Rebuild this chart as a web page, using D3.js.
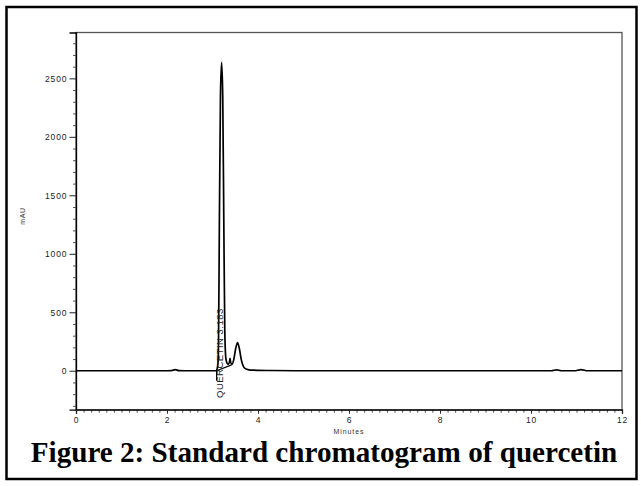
<!DOCTYPE html>
<html>
<head>
<meta charset="utf-8">
<script src="https://cdn.jsdelivr.net/npm/d3@7"></script>
<style>
  body { margin: 0; background: #fff; }
  svg { display: block; }
</style>
</head>
<body>
<svg id="chart" width="641" height="486"></svg>
<script>
// chromatogram trace (minutes, mAU)
var times = [0, 1.0, 2.0, 2.1, 2.18, 2.26, 2.4, 3.0, 3.08, 3.11, 3.13, 3.15, 3.175, 3.2,
  3.225, 3.25, 3.27, 3.29, 3.31, 3.34, 3.37, 3.385, 3.4, 3.43, 3.47, 3.51, 3.55, 3.59,
  3.63, 3.67, 3.72, 3.8, 3.9, 4.0, 4.3, 5.0, 7.0, 9.0, 10.45, 10.56, 10.67, 10.95, 11.1,
  11.25, 11.5, 12.0];
var mAU = [0, 0, 0, 1, 9, 1, 0, 0, 0, 30, 150, 1200, 2350, 2637,
  2350, 1200, 350, 120, 75, 55, 70, 105, 70, 55, 100, 190, 240, 190,
  100, 45, 18, 8, 5, 3, 2, 0, 0, 0, 0, 8, 0, 0, 9,
  0, 0, 0];

// integration baseline drawn under the peak
var baseTimes = [3.09, 3.42];
var baseValues = [0, 50];

var peakLabel = "QUERCETIN 3.183";
var peakLabelTime = 3.09;

var xTicks = [0, 2, 4, 6, 8, 10, 12];
var yTicks = [0, 500, 1000, 1500, 2000, 2500];

var caption = "Figure 2: Standard chromatogram of quercetin";

var svg = d3.select("#chart");

// outer frame
svg.append("rect")
    .attr("x", 6.5)
    .attr("y", 7)
    .attr("width", 630)
    .attr("height", 472)
    .attr("fill", "none")
    .attr("stroke", "#000")
    .attr("stroke-width", 2.5);

var pLeft = 76, pRight = 622, pTop = 32.5, pBottom = 409.7;

var x = d3.scaleLinear().domain([0, 12]).range([pLeft, pRight]);
var y = d3.scaleLinear().domain([-333, 2892]).range([pBottom, pTop]);

// plot box
svg.append("rect")
    .attr("x", pLeft)
    .attr("y", pTop)
    .attr("width", pRight - pLeft)
    .attr("height", pBottom - pTop)
    .attr("fill", "none")
    .attr("stroke", "#555")
    .attr("stroke-width", 1.3);

// Y AXIS //
var yMinor = d3.range(-300, 2801, 100).filter(function(v) { return v % 500 != 0; });
svg.append("g")
    .attr("transform", "translate(" + pLeft + ",0)")
    .call(d3.axisLeft(y).tickValues(yMinor).tickSize(3).tickFormat(""))
    .call(function(g) { g.select(".domain").remove(); })
    .selectAll("line").attr("stroke", "#555");

var yAxis = svg.append("g")
    .attr("transform", "translate(" + pLeft + ",0)")
    .call(d3.axisLeft(y).tickValues(yTicks).tickSize(6.5).tickPadding(2).tickFormat(d3.format("d")));
yAxis.select(".domain").attr("stroke", "#000").attr("stroke-width", 1.3);
yAxis.selectAll("line").attr("stroke", "#222");
yAxis.selectAll("text")
    .attr("font-family", "Liberation Sans, Arial, sans-serif")
    .attr("font-size", "8.5px")
    .attr("letter-spacing", "0.9px")
    .attr("fill", "#222");

svg.append("text")
    .attr("transform", "translate(25,216) rotate(-90)")
    .attr("font-family", "Liberation Sans, Arial, sans-serif")
    .attr("font-size", "7px")
    .attr("letter-spacing", "0.6px")
    .attr("fill", "#333")
    .style("text-anchor", "middle")
    .text("mAU");

// X AXIS //
var xMinor = d3.range(0, 73).map(function(i) { return i / 6; }).filter(function(v, i) { return i % 12 != 0; });
svg.append("g")
    .attr("transform", "translate(0," + pBottom + ")")
    .call(d3.axisBottom(x).tickValues(xMinor).tickSize(3).tickFormat(""))
    .call(function(g) { g.select(".domain").remove(); })
    .selectAll("line").attr("stroke", "#555");

var xAxis = svg.append("g")
    .attr("transform", "translate(0," + pBottom + ")")
    .call(d3.axisBottom(x).tickValues(xTicks).tickSize(4).tickPadding(3).tickFormat(d3.format("d")));
xAxis.select(".domain").attr("stroke", "#000").attr("stroke-width", 1.3);
xAxis.selectAll("line").attr("stroke", "#222");
xAxis.selectAll("text")
    .attr("font-family", "Liberation Sans, Arial, sans-serif")
    .attr("font-size", "8.5px")
    .attr("letter-spacing", "0.9px")
    .attr("fill", "#222");

svg.append("text")
    .attr("x", (pLeft + pRight) / 2)
    .attr("y", 434)
    .attr("font-family", "Liberation Sans, Arial, sans-serif")
    .attr("font-size", "7px")
    .attr("letter-spacing", "0.9px")
    .attr("fill", "#333")
    .style("text-anchor", "middle")
    .text("Minutes");

// TRACE //
var trace = times.map(function(t, i) { return [t, mAU[i]]; });
var line = d3.line()
    .x(function(d) { return x(d[0]); })
    .y(function(d) { return y(d[1]); })
    .curve(d3.curveMonotoneX);

svg.append("path")
    .datum(trace)
    .attr("d", line)
    .attr("fill", "none")
    .attr("stroke", "#000")
    .attr("stroke-width", 1.7);

var baseSeg = baseTimes.map(function(t, i) { return [t, baseValues[i]]; });
svg.append("path")
    .datum(baseSeg)
    .attr("d", d3.line().x(function(d) { return x(d[0]); }).y(function(d) { return y(d[1]); }))
    .attr("fill", "none")
    .attr("stroke", "#000")
    .attr("stroke-width", 1.2);

// peak marker + label
svg.append("line")
    .attr("x1", x(peakLabelTime))
    .attr("x2", x(peakLabelTime))
    .attr("y1", y(0))
    .attr("y2", y(-85))
    .attr("stroke", "#000")
    .attr("stroke-width", 1.2);

svg.append("text")
    .attr("transform", "translate(" + (x(peakLabelTime) + 6.5) + ",398) rotate(-90)")
    .attr("font-family", "Liberation Sans, Arial, sans-serif")
    .attr("font-size", "9.5px")
    .attr("letter-spacing", "0.5px")
    .attr("fill", "#222")
    .style("text-anchor", "start")
    .text(peakLabel);

// CAPTION //
var cap = svg.append("text")
    .attr("x", 324)
    .attr("y", 462)
    .attr("font-family", "Liberation Serif, Times New Roman, serif")
    .attr("font-weight", "bold")
    .attr("font-size", "24px")
    .attr("fill", "#000")
    .style("text-anchor", "middle")
    .text(caption);
var w = cap.node().getComputedTextLength();
cap.attr("font-size", (24 * 587 / w) + "px");
</script>
</body>
</html>
